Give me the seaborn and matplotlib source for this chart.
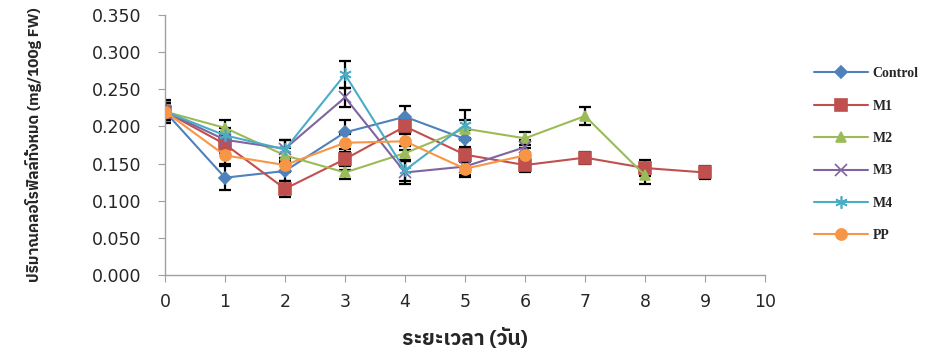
import matplotlib
matplotlib.use("Agg")
import matplotlib.pyplot as plt
from matplotlib import font_manager
from matplotlib.ticker import FormatStrFormatter, MultipleLocator
import numpy as np
import pandas as pd
import seaborn as sns

# ============================================================
# DATA
# ============================================================

days = list(range(10))

control = [0.220, 0.131, 0.140, 0.192, 0.213, 0.183]
m1 = [0.220, 0.176, 0.116, 0.156, 0.200, 0.162, 0.148, 0.158, 0.144, 0.138]
m2 = [0.220, 0.198, 0.161, 0.138, 0.164, 0.197, 0.184, 0.214, 0.134]
m3 = [0.220, 0.182, 0.170, 0.239, 0.138, 0.146, 0.172]
m4 = [0.220, 0.188, 0.169, 0.270, 0.141, 0.202]
pp = [0.220, 0.161, 0.148, 0.178, 0.180, 0.143, 0.161]

control_err = [0.015, 0.016, 0.014, 0.016, 0.015, 0.012]
m1_err = [0.012, 0.012, 0.011, 0.014, 0.010, 0.010, 0.009, 0.008, 0.011, 0.009]
m2_err = [0.012, 0.010, 0.010, 0.009, 0.010, 0.012, 0.009, 0.012, 0.011]
m3_err = [0.012, 0.010, 0.012, 0.013, 0.015, 0.012, 0.010]
m4_err = [0.012, 0.010, 0.013, 0.018, 0.014, 0.020]
pp_err = [0.012, 0.012, 0.010, 0.012, 0.012, 0.011, 0.010]

labels = ["Control", "M1", "M2", "M3", "M4", "PP"]
values = [control, m1, m2, m3, m4, pp]
errors = [control_err, m1_err, m2_err, m3_err, m4_err, pp_err]

colors = ["#4F81BD", "#C0504D", "#9BBB59", "#8064A2", "#4BACC6", "#F79646"]
markers = ["D", "s", "^", "x", (6, 2, 0), "o"]
msizes = [6, 8, 7, 8, 9, 8]

rows = []
for lab, vals, errs in zip(labels, values, errors):
    for d, v, e in zip(days, vals, errs):
        rows.append({"day": d, "value": v, "err": e, "treatment": lab})
df = pd.DataFrame(rows)

# ============================================================
# FONTS (Thai glyphs, bold face available, serif if possible)
# ============================================================


def find_thai_family():
    try:
        from fontTools.ttLib import TTFont
    except Exception:
        return None
    bold_ok = {}
    for f in font_manager.fontManager.ttflist:
        try:
            kw = {"fontNumber": 0} if f.fname.lower().endswith(".ttc") else {}
            tt = TTFont(f.fname, lazy=True, **kw)
            cmap = tt.getBestCmap() or {}
            if ord("ป") in cmap and ord("ั") in cmap:
                w = f.weight if isinstance(f.weight, int) else 400
                bold_ok[f.name] = bold_ok.get(f.name, False) or w >= 600
        except Exception:
            continue
    if not bold_ok:
        return None
    bold = [n for n, b in bold_ok.items() if b]
    pool = bold if bold else list(bold_ok)
    for want in ["Noto Serif Thai", "Norasi", "TH Sarabun New",
                 "Noto Sans Thai"]:
        if want in pool:
            return want
    for p in pool:
        if "Thai" in p and "Looped" not in p:
            return p
    return pool[0]


sns.set_style("white")
thai = find_thai_family()
thai_fam = [thai, "DejaVu Sans"] if thai else ["DejaVu Sans"]
plt.rcParams["font.family"] = ["DejaVu Sans"]

# ============================================================
# PLOT
# ============================================================

fig = plt.figure(figsize=(9.36, 3.53), dpi=100)
ax = fig.add_axes([0.1763, 0.221, 0.641, 0.7365])

for lab, col, mk, ms in zip(labels, colors, markers, msizes):
    sub = df[df["treatment"] == lab]
    ax.errorbar(sub["day"], sub["value"], yerr=sub["err"], fmt="none",
                ecolor="black", elinewidth=1.6, capsize=4, capthick=1.6,
                zorder=2)
    sns.lineplot(data=sub, x="day", y="value", color=col, marker=mk,
                 markersize=ms, markeredgecolor=col, markeredgewidth=1.2,
                 linewidth=1.5, label=lab, ax=ax, zorder=3)

ax.set_xlim(0, 10)
ax.set_ylim(0, 0.35)
ax.xaxis.set_major_locator(MultipleLocator(1))
ax.yaxis.set_major_locator(MultipleLocator(0.05))
ax.yaxis.set_major_formatter(FormatStrFormatter("%.3f"))

for s in ["top", "right"]:
    ax.spines[s].set_visible(False)
for s in ["left", "bottom"]:
    ax.spines[s].set_color("#A0A0A0")
    ax.spines[s].set_linewidth(1.0)

ax.tick_params(axis="both", direction="out", length=5, color="#A0A0A0",
               labelsize=12.5, left=True, bottom=True)
ax.tick_params(axis="y", pad=12)
ax.tick_params(axis="x", pad=8)

ax.set_xlabel("ระยะเวลา (วัน)", family=thai_fam, fontsize=15,
              fontweight="bold", labelpad=12)
ax.set_ylabel("ปริมาณคลอโรฟิลล์ทั้งหมด (mg/100g FW)", family=thai_fam,
              fontsize=11, fontweight="bold", labelpad=36)

ax.get_legend().remove()
handles, labs = ax.get_legend_handles_labels()
fig.legend(handles, labs, loc="upper left", bbox_to_anchor=(0.870, 0.810),
           frameon=False, borderpad=0, borderaxespad=0,
           labelspacing=1.40, handlelength=3.9, handletextpad=0.3,
           prop={"family": "Liberation Serif", "weight": "bold", "size": 10})

fig.savefig("out.png", dpi=100)
